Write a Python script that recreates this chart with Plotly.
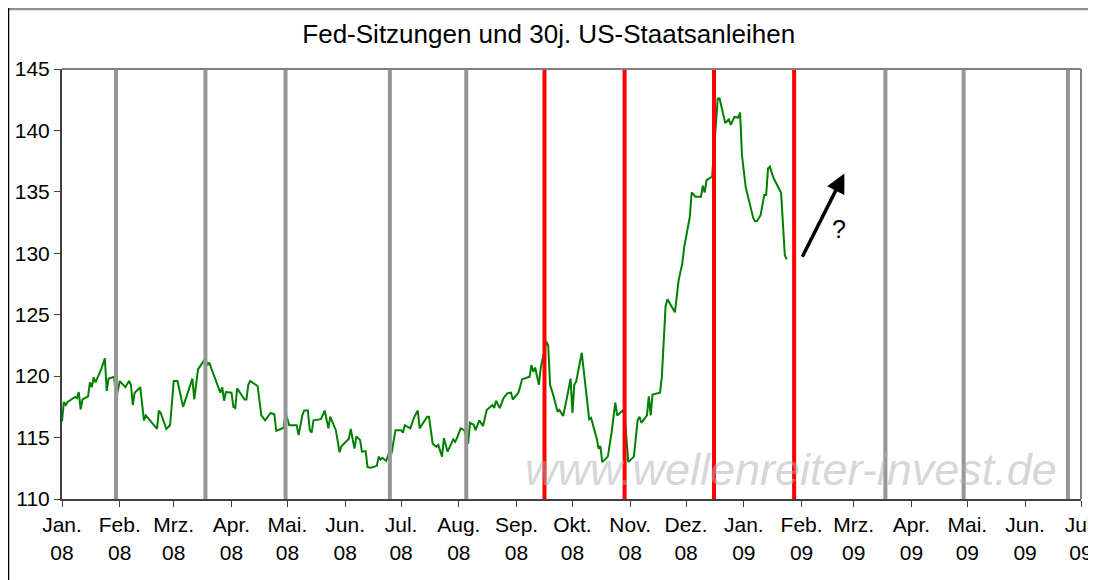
import plotly.graph_objects as go
import pandas as pd

# ---------------- data ----------------
dates = [
    "2008-01-01", "2008-01-02", "2008-01-03", "2008-01-04", "2008-01-06", "2008-01-08", "2008-01-09",
    "2008-01-10", "2008-01-11", "2008-01-12", "2008-01-15", "2008-01-16", "2008-01-17", "2008-01-18",
    "2008-01-19", "2008-01-22", "2008-01-24", "2008-01-25", "2008-01-26", "2008-01-29", "2008-01-30",
    "2008-02-01", "2008-02-04", "2008-02-06", "2008-02-07", "2008-02-08", "2008-02-09", "2008-02-12",
    "2008-02-14", "2008-02-15", "2008-02-21", "2008-02-22", "2008-02-23", "2008-02-26", "2008-02-28",
    "2008-03-01", "2008-03-03", "2008-03-06", "2008-03-11", "2008-03-12", "2008-03-14", "2008-03-18",
    "2008-03-19", "2008-03-20", "2008-03-21", "2008-03-25", "2008-03-26", "2008-03-27", "2008-03-28",
    "2008-03-29", "2008-04-01", "2008-04-02", "2008-04-03", "2008-04-04", "2008-04-08", "2008-04-09",
    "2008-04-10", "2008-04-11", "2008-04-15", "2008-04-17", "2008-04-19", "2008-04-22", "2008-04-24",
    "2008-04-25", "2008-04-29", "2008-04-30", "2008-05-02", "2008-05-06", "2008-05-07", "2008-05-09",
    "2008-05-10", "2008-05-12", "2008-05-13", "2008-05-14", "2008-05-15", "2008-05-19", "2008-05-21",
    "2008-05-23", "2008-05-24", "2008-05-27", "2008-05-29", "2008-05-30", "2008-06-03", "2008-06-04",
    "2008-06-06", "2008-06-07", "2008-06-09", "2008-06-10", "2008-06-12", "2008-06-13", "2008-06-15",
    "2008-06-18", "2008-06-19", "2008-06-20", "2008-06-21", "2008-06-23", "2008-06-25", "2008-06-26",
    "2008-06-28", "2008-07-01", "2008-07-02", "2008-07-03", "2008-07-06", "2008-07-08", "2008-07-10",
    "2008-07-11", "2008-07-15", "2008-07-16", "2008-07-18", "2008-07-20", "2008-07-21", "2008-07-23",
    "2008-07-24", "2008-07-26", "2008-07-29", "2008-07-30", "2008-07-31", "2008-08-02", "2008-08-04",
    "2008-08-06", "2008-08-07", "2008-08-09", "2008-08-10", "2008-08-12", "2008-08-14", "2008-08-16",
    "2008-08-19", "2008-08-20", "2008-08-21", "2008-08-23", "2008-08-25", "2008-08-27", "2008-08-29",
    "2008-08-30", "2008-09-02", "2008-09-04", "2008-09-08", "2008-09-09", "2008-09-10", "2008-09-11",
    "2008-09-13", "2008-09-14", "2008-09-16", "2008-09-17", "2008-09-18", "2008-09-19", "2008-09-21",
    "2008-09-23", "2008-09-24", "2008-09-26", "2008-09-28", "2008-09-30", "2008-10-01", "2008-10-02",
    "2008-10-03", "2008-10-06", "2008-10-10", "2008-10-11", "2008-10-14", "2008-10-15", "2008-10-16",
    "2008-10-17", "2008-10-20", "2008-10-22", "2008-10-24", "2008-10-25", "2008-10-28", "2008-10-29",
    "2008-10-31", "2008-11-03", "2008-11-05", "2008-11-06", "2008-11-07", "2008-11-10", "2008-11-11",
    "2008-11-12", "2008-11-13", "2008-11-17", "2008-11-18", "2008-11-19", "2008-11-20", "2008-11-21",
    "2008-11-25", "2008-11-27", "2008-11-28", "2008-11-29", "2008-11-30", "2008-12-03", "2008-12-04",
    "2008-12-06", "2008-12-09", "2008-12-10", "2008-12-11", "2008-12-12", "2008-12-15", "2008-12-18",
    "2008-12-19", "2008-12-22", "2008-12-24", "2008-12-25", "2008-12-27", "2008-12-29", "2008-12-30",
    "2008-12-31", "2009-01-02", "2009-01-06", "2009-01-07", "2009-01-08", "2009-01-10", "2009-01-12",
    "2009-01-13", "2009-01-14", "2009-01-15", "2009-01-17", "2009-01-21", "2009-01-23", "2009-01-24",
]
values = [
    116.3, 117.9, 117.65, 117.9, 118.1, 118.3, 118.2,
    118.7, 117.3, 118.1, 118.35, 119.5, 119.1, 119.9,
    119.5, 120.55, 121.45, 118.8, 119.8, 119.95, 118.1,
    119.6, 119.1, 119.6, 119.3, 117.65, 118.65, 119.1,
    116.4, 116.8, 115.7, 117.2, 117.0, 115.7, 116.0,
    119.6, 119.6, 117.5, 119.8, 118.1, 120.55, 121.45,
    120.9, 121.1, 120.7, 119.0, 118.65, 119.1, 118.0,
    118.7, 118.65, 117.5, 117.4, 119.0, 118.1, 118.1,
    119.3, 119.6, 119.2, 116.8, 116.4, 117.0, 116.9,
    115.55, 115.8, 117.0, 116.0, 116.0, 115.2, 116.8,
    117.2, 117.2, 115.6, 115.4, 116.4, 116.5, 117.2,
    115.75, 116.7, 115.6, 113.8, 114.3, 114.9, 115.7,
    114.1, 115.1, 114.8, 113.85, 113.9, 112.6, 112.55,
    112.7, 113.45, 113.2, 113.35, 113.1, 113.9, 113.8,
    115.6, 115.6, 115.4, 116.0, 115.75, 116.65, 117.2,
    115.75, 116.7, 116.7, 114.5, 114.25, 114.4, 113.45,
    114.95, 113.85, 114.85, 114.65, 114.95, 115.75, 115.6,
    114.5, 116.2, 116.05, 115.6, 116.4, 115.95, 117.25,
    117.65, 117.4, 118.0, 117.4, 118.2, 118.6, 118.65,
    118.1, 118.65, 119.75, 119.95, 120.9, 120.35, 120.7,
    119.3, 120.7, 122.0, 122.8, 122.5, 119.3, 118.3,
    117.1, 117.25, 116.75, 118.2, 119.8, 117.0, 119.3,
    119.55, 121.9, 116.5, 116.6, 114.95, 114.1, 114.3,
    113.0, 113.45, 115.4, 117.85, 116.8, 117.2, 116.9,
    113.0, 113.45, 116.4, 116.7, 116.2, 116.8, 118.35,
    116.8, 118.5, 118.65, 119.95, 122.5, 125.7, 126.25,
    125.2, 127.8, 128.4, 129.2, 130.5, 132.95, 134.95,
    134.6, 134.6, 135.5, 134.95, 135.95, 136.25, 142.6,
    142.6, 140.6, 140.9, 140.45, 141.1, 141.05, 141.45,
    138.0, 135.4, 132.9, 132.6, 132.6, 133.1, 134.75,
    134.75, 136.9, 137.05, 136.1, 134.95, 129.85, 129.5,
]

# Fed meetings: grey = normal, red = highlighted
fed_grey = ["2008-01-30", "2008-03-18", "2008-04-30", "2008-06-25", "2008-08-05",
            "2009-03-18", "2009-04-29", "2009-06-24"]
fed_red = ["2008-09-16", "2008-10-29", "2008-12-16", "2009-01-28"]

month_names = ["Jan.", "Feb.", "Mrz.", "Apr.", "Mai.", "Jun.", "Jul.", "Aug.", "Sep.",
               "Okt.", "Nov.", "Dez.", "Jan.", "Feb.", "Mrz.", "Apr.", "Mai.", "Jun.", "Jul."]
year_labels = ["08"] * 12 + ["09"] * 7
y_ticks = [110, 115, 120, 125, 130, 135, 140, 145]

title_text = "Fed-Sitzungen und 30j. US-Staatsanleihen"
watermark = "www.wellenreiter-invest.de"

# arrow (tail -> head) and question mark
arrow_tail = ("2009-02-01", 129.6)
arrow_head = ("2009-02-24", 136.5)
question_pos = ("2009-02-21", 132.0)

# ---------------- figure ----------------
tick_vals = pd.date_range("2008-01-01", "2009-07-01", freq="MS")
tick_text = [f"{m}<br>{y}" for m, y in zip(month_names, year_labels)]

FONT = "Liberation Sans, Arial, sans-serif"

fig = go.Figure()
fig.add_trace(go.Scatter(x=dates, y=values, mode="lines",
                         line=dict(color="#008000", width=2), showlegend=False,
                         hoverinfo="skip"))

shapes = []
for d in fed_grey:
    shapes.append(dict(type="line", xref="x", yref="paper", x0=d, x1=d, y0=0, y1=1,
                       line=dict(color="#969696", width=4), layer="above"))
for d in fed_red:
    shapes.append(dict(type="line", xref="x", yref="paper", x0=d, x1=d, y0=0, y1=1,
                       line=dict(color="#FF0000", width=4), layer="above"))
# plot-area frame (top and right, grey)
shapes.append(dict(type="line", xref="paper", yref="paper", x0=0, x1=1, y0=1, y1=1,
                   line=dict(color="#808080", width=2), layer="above"))
shapes.append(dict(type="line", xref="paper", yref="paper", x0=1, x1=1, y0=0, y1=1,
                   line=dict(color="#808080", width=2), layer="above"))
# outer chart border along the top and left edge of the figure
shapes.append(dict(type="line", xref="paper", yref="paper", x0=-0.06, x1=1.2, y0=1.14, y1=1.14,
                   line=dict(color="#909090", width=3), layer="above"))
shapes.append(dict(type="line", xref="paper", yref="paper", x0=-0.0525, x1=-0.0525, y0=1.2, y1=-0.5,
                   line=dict(color="#000000", width=1.5), layer="above"))

annotations = [
    dict(text=f"<i>{watermark}</i>", xref="paper", yref="paper", x=0.715, y=0.068,
         showarrow=False, font=dict(family=FONT, size=45, color="rgba(175,175,175,0.5)"),
         xanchor="center", yanchor="middle"),
    dict(x=arrow_head[0], y=arrow_head[1], ax=arrow_tail[0], ay=arrow_tail[1],
         xref="x", yref="y", axref="x", ayref="y", text="", showarrow=True,
         arrowhead=2, arrowsize=1.1, arrowwidth=3.5, arrowcolor="#000000", standoff=0),
    dict(x=question_pos[0], y=question_pos[1], xref="x", yref="y", text="?",
         showarrow=False, font=dict(family=FONT, size=25, color="#000000")),
]

# The page body adds an 8px offset, so the figure is 8px smaller than the window.
fig.update_layout(
    width=1088, height=572,
    margin=dict(l=54, r=15, t=61, b=81, autoexpand=False),
    paper_bgcolor="white", plot_bgcolor="white",
    title=dict(text=title_text, x=0.497, xref="container", xanchor="center",
               y=0.955, yref="container", yanchor="middle",
               font=dict(family=FONT, size=26, color="#000000")),
    shapes=shapes, annotations=annotations,
    xaxis=dict(type="date", range=["2008-01-01", "2009-07-01"],
               tickmode="array", tickvals=tick_vals, ticktext=tick_text,
               ticklabeloverflow="allow", automargin=False,
               ticks="outside", ticklen=6, tickwidth=1, tickcolor="#404040",
               showline=True, linecolor="#404040", linewidth=2, showgrid=False,
               zeroline=False, tickfont=dict(family=FONT, size=21, color="#000000")),
    yaxis=dict(range=[110, 145], tickmode="array", tickvals=y_ticks, automargin=False,
               ticks="outside", ticklen=6, tickwidth=1, tickcolor="#404040",
               showline=True, linecolor="#404040", linewidth=2, showgrid=False,
               zeroline=False, tickfont=dict(family=FONT, size=21, color="#000000")),
)

fig.write_html("out.html")
